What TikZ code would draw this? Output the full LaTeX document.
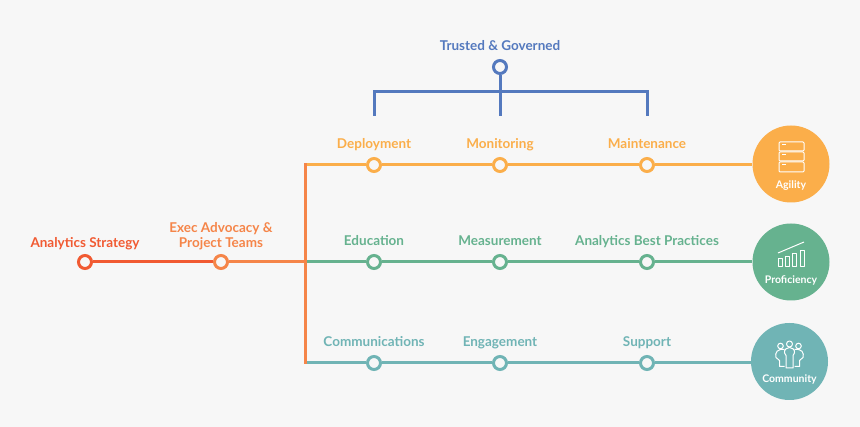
\documentclass[tikz,border=0pt]{standalone}
\usepackage{fontspec}
\setmainfont{Lato}
\usetikzlibrary{positioning, calc}
\definecolor{bgcol}{HTML}{F7F7F7}
\definecolor{redcol}{HTML}{F15A32}
\definecolor{execcol}{HTML}{F58549}
\definecolor{bluecol}{HTML}{5479BE}
\definecolor{yellowcol}{HTML}{FBAE4A}
\definecolor{greencol}{HTML}{66B28F}
\definecolor{tealcol}{HTML}{70B4B5}

\begin{document}
\begin{tikzpicture}[
  x=1pt, y=-1pt,
  node distance=5pt,
  font=\fontsize{13.5pt}{15.5pt}\selectfont\bfseries,
  dot/.style={circle, draw=#1, fill=bgcol, line width=3pt, minimum size=13pt, inner sep=0pt},
  lbl/.style={text=#1, inner sep=0pt, align=center, text depth=3pt},
  hub/.style={circle, fill=#1, minimum size=77pt, inner sep=0pt},
  hubtext/.style={text=white, inner sep=0pt, font=\fontsize{10.5pt}{12pt}\selectfont\bfseries},
  link/.style={draw=#1, line width=3pt},
  icon/.style={draw=white, line width=1pt, line join=round},
]
\fill[bgcol] (0,0) rectangle (860,427);
\useasboundingbox (0,0) rectangle (860,427);

% junction and bracket points
\coordinate (jmid) at (305,262);
\coordinate (jtop) at (305,165);
\coordinate (jbot) at (305,363);
\coordinate (brmid) at (500,92);
\coordinate (brleft) at (374,116);
\coordinate (brright) at (647,116);
\coordinate (brcentre) at (500,116);

% hubs
\node[hub=yellowcol] (agility) at (791,164) {};
\node[hub=greencol] (proficiency) at (791,262) {};
\node[hub=tealcol] (community) at (789.5,361.5) {};
\node[hubtext, yshift=-21.3pt] (agilitytxt) at (agility.center) {Agility};
\node[hubtext, yshift=-18pt] (proficiencytxt) at (proficiency.center) {Proficiency};
\node[hubtext, yshift=-18.3pt] (communitytxt) at (community.center) {Community};

% left part
\node[dot=redcol] (strategy) at (85,262) {};
\node[dot=execcol] (exec) at (221,262) {};
\node[lbl=redcol, above=3pt of strategy] {Analytics Strategy};
\node[lbl=execcol, above=3pt of exec] {Exec Advocacy \&\\Project Teams};

% top row
\node[dot=yellowcol] (deploy) at (374,165) {};
\node[dot=yellowcol] (monitor) at (500,165) {};
\node[dot=yellowcol] (maint) at (647,165) {};
\node[lbl=yellowcol, above=of deploy] {Deployment};
\node[lbl=yellowcol, above=of monitor] {Monitoring};
\node[lbl=yellowcol, above=of maint] {Maintenance};

% middle row
\node[dot=greencol] (edu) at (374,262) {};
\node[dot=greencol] (measure) at (500,262) {};
\node[dot=greencol] (best) at (647,262) {};
\node[lbl=greencol, above=of edu] {Education};
\node[lbl=greencol, above=of measure] {Measurement};
\node[lbl=greencol, above=of best] {Analytics Best Practices};

% bottom row
\node[dot=tealcol] (comms) at (374,363) {};
\node[dot=tealcol] (engage) at (500,363) {};
\node[dot=tealcol] (support) at (647,363) {};
\node[lbl=tealcol, above=of comms] {Communications};
\node[lbl=tealcol, above=of engage] {Engagement};
\node[lbl=tealcol, above=of support] {Support};

% governance
\node[dot=bluecol] (trusted) at (500,67) {};
\node[lbl=bluecol, above=of trusted] {Trusted \& Governed};

% connectors
\draw[link=bluecol] (trusted) -- (brcentre);
\draw[link=bluecol] (brleft) |- (brmid) -| (brright);

\draw[link=yellowcol] (jtop) -- (deploy) -- (monitor) -- (maint) -- (maint -| agility.west);
\draw[link=greencol] (jmid) -- (edu) -- (measure) -- (best) -- (proficiency);
\draw[link=tealcol] (jbot) -- (comms) -- (engage) -- (support) -- (support -| community.west);
\draw[link=redcol] (strategy) -- (exec);
\draw[link=execcol] (exec) -- (jmid);
\draw[link=execcol, line cap=rect] (jtop) -- (jbot);

% icons
\begin{scope}[shift={(agility.center)}, icon]
  \draw[rounded corners=1pt] (-12,-22) rectangle (13,-13);
  \draw[rounded corners=1pt] (-12,-12) rectangle (13,-3);
  \draw[rounded corners=1pt] (-12,-2) rectangle (13,8);
  \draw (-9,-19) -- (-5,-19) (-9,-9) -- (-5,-9) (-9,1) -- (-5,1);
\end{scope}
\begin{scope}[shift={(proficiency.center)}, icon]
  \draw (-13,-9) -- (13,-20);
  \draw (-13,-3) rectangle (-9,5);
  \draw (-6,-5) rectangle (-2,5);
  \draw (1,-8) rectangle (5,5);
  \draw (9,-11) rectangle (13,5);
\end{scope}
\begin{scope}[shift={(community.center)}, icon]
  \draw (-9,-15.5) circle (2.8pt);
  \draw (0,-17.5) circle (3pt);
  \draw (9,-15.5) circle (2.8pt);
  \draw (-3.5,1) -- (-3.5,-6) .. controls (-6,-9) and (-6,-13) .. (0,-14)
        .. controls (6,-13) and (6,-9) .. (3.5,-6) -- (3.5,6.5) -- (-3.5,6.5) -- cycle;
  \draw (-5,-12) .. controls (-12,-13) and (-15,-9) .. (-13.5,-4) -- (-10,-1) -- (-10,5) -- (-5,5);
  \draw (5,-12) .. controls (12,-13) and (15,-9) .. (13.5,-4) -- (10,-1) -- (10,5) -- (5,5);
\end{scope}
\end{tikzpicture}
\end{document}
